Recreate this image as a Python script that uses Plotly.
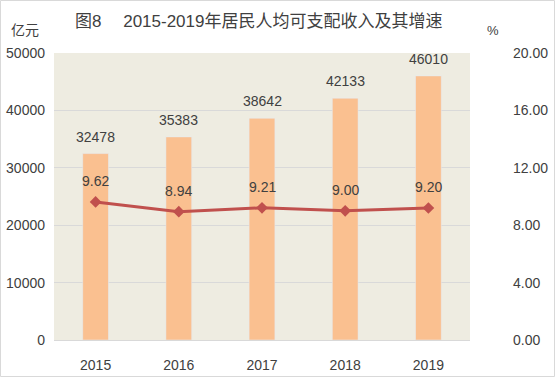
import plotly.graph_objects as go

years = ["2015", "2016", "2017", "2018", "2019"]
income = [32478, 35383, 38642, 42133, 46010]
growth = [9.62, 8.94, 9.21, 9.00, 9.20]
left_ticks = [0, 10000, 20000, 30000, 40000, 50000]
right_ticks = [0, 4, 8, 12, 16, 20]

FONT = "Liberation Sans, Noto Sans CJK SC, sans-serif"
TXT = "#404040"

xs = list(range(len(years)))

fig = go.Figure()
fig.add_trace(go.Bar(x=xs, y=income, marker_color="#FAC090", width=0.31,
                     hoverinfo="skip", showlegend=False))
fig.add_trace(go.Scatter(x=xs, y=growth, yaxis="y2", mode="lines+markers",
                         line=dict(color="#C0504D", width=3),
                         marker=dict(symbol="diamond", size=9, color="#C0504D"),
                         showlegend=False))

ann = []
for x, v in zip(xs, income):
    ann.append(dict(x=x, y=v, xref="x", yref="y", text=str(v), showarrow=False,
                    yshift=17, font=dict(size=14, color=TXT, family=FONT)))
for x, v in zip(xs, growth):
    ann.append(dict(x=x, y=v, xref="x", yref="y2", text=f"{v:.2f}", showarrow=False,
                    yshift=21, font=dict(size=14, color=TXT, family=FONT)))

W, H = 556, 378
L, R, T, B = 54, 86, 53, 38
pw, ph = W - L - R, H - T - B

def px(xp):
    return (xp - L) / pw

def py(yp):
    return (H - B - yp) / ph

ann.append(dict(x=px(258), y=py(21), xref="paper", yref="paper",
                text="图8　 2015-2019年居民人均可支配收入及其增速", showarrow=False,
                font=dict(size=17, color=TXT, family=FONT), xanchor="center", yanchor="middle"))
ann.append(dict(x=px(25), y=py(30), xref="paper", yref="paper", text="亿元", showarrow=False,
                font=dict(size=14, color=TXT, family=FONT), xanchor="center", yanchor="middle"))
ann.append(dict(x=px(493), y=py(31), xref="paper", yref="paper", text="%", showarrow=False,
                font=dict(size=13, color=TXT, family=FONT), xanchor="center", yanchor="middle"))

fig.update_layout(
    width=W, height=H,
    margin=dict(l=L, r=R, t=T, b=B, pad=0, autoexpand=False),
    paper_bgcolor="white", plot_bgcolor="#EEECE1",
    annotations=ann,
    xaxis=dict(range=[-0.5, len(years) - 0.5], tickvals=xs, ticktext=years, automargin=False,
               showgrid=False, showline=True, linecolor="#D9D9D9", zeroline=False,
               ticks="", tickfont=dict(size=14, color=TXT, family=FONT), ticklabelstandoff=12),
    yaxis=dict(range=[0, 50000], tickvals=left_ticks, ticktext=[str(t) for t in left_ticks],
               automargin=False,
               showgrid=True, gridcolor="#D9D9D9", zeroline=False, ticks="",
               tickfont=dict(size=14, color=TXT, family=FONT), ticklabelstandoff=8),
    yaxis2=dict(range=[0, 20], overlaying="y", side="right", tickvals=right_ticks, automargin=False,
                ticktext=[f"{t:.2f}" for t in right_ticks], showgrid=False, zeroline=False,
                ticks="", tickfont=dict(size=14, color=TXT, family=FONT), ticklabelstandoff=42),
    shapes=[dict(type="rect", xref="paper", yref="paper",
                 x0=px(0.5), x1=px(554.5), y0=py(0.5), y1=py(376.5),
                 line=dict(color="#D9D9D9", width=1), layer="below")],
)

fig.write_html("out.html", config={"displayModeBar": False},
               post_script="document.body.style.margin='0';")
